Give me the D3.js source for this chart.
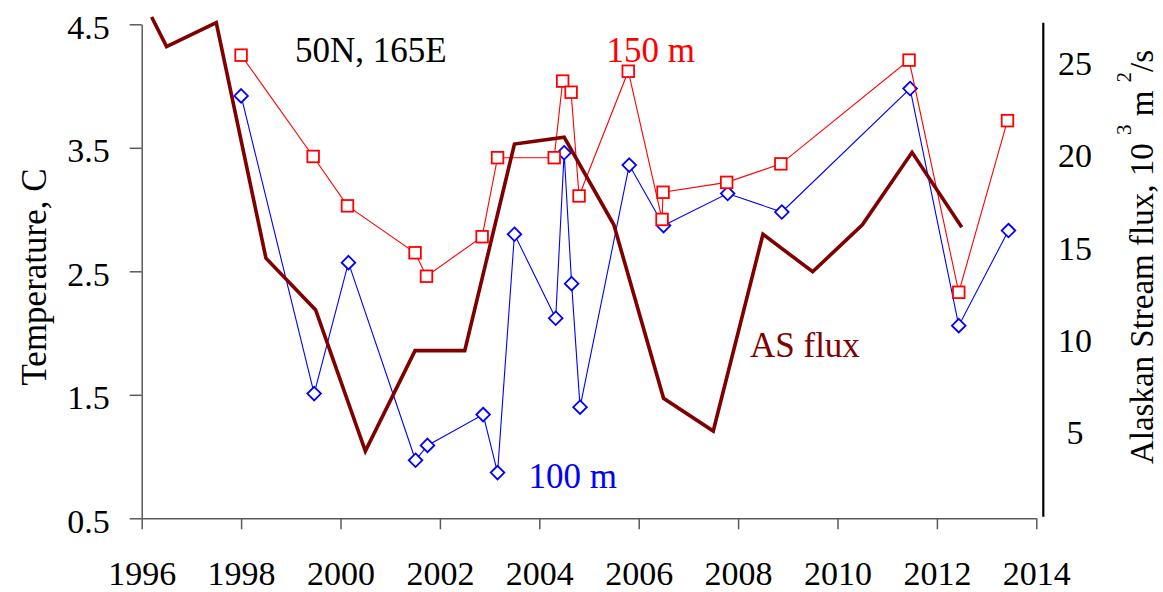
<!DOCTYPE html>
<html>
<head>
<meta charset="utf-8">
<script src="https://cdn.jsdelivr.net/npm/d3@7"></script>
<style>
  body { margin: 0; background: #fff; }
</style>
</head>
<body>
<svg id="chart" width="1163" height="592" font-family="'Liberation Serif', 'Times New Roman', 'DejaVu Serif', serif"></svg>
<script>
// Axis ticks
const yearTicks = [1996, 1998, 2000, 2002, 2004, 2006, 2008, 2010, 2012, 2014];
const tempTicks = [0.5, 1.5, 2.5, 3.5, 4.5];
const fluxTicks = [5, 10, 15, 20, 25];

// Temperature at 150 m (survey dates, decimal years)
const t150Years  = [1998.00, 1999.45, 2000.14, 2001.50, 2001.73, 2002.85, 2003.16, 2004.30, 2004.47, 2004.64,
                    2004.80, 2005.79, 2006.47, 2006.49, 2007.77, 2008.86, 2011.44, 2012.44, 2013.42];
const t150Values = [4.25, 3.43, 3.03, 2.65, 2.46, 2.78, 3.42, 3.42, 4.04, 3.95,
                    3.11, 4.12, 2.92, 3.14, 3.22, 3.37, 4.21, 2.33, 3.72];

// Temperature at 100 m
const t100Years  = [1998.00, 1999.47, 2000.16, 2001.51, 2001.75, 2002.87, 2003.16, 2003.50, 2004.33, 2004.50,
                    2004.65, 2004.82, 2005.81, 2006.50, 2007.79, 2008.88, 2011.46, 2012.44, 2013.44];
const t100Values = [3.92, 1.51, 2.57, 0.97, 1.09, 1.34, 0.87, 2.80, 2.12, 3.46,
                    2.40, 1.40, 3.36, 2.87, 3.13, 2.98, 3.98, 2.06, 2.83];

// Alaskan Stream flux, 10^3 m^2/s
const fluxYears  = [1996.2, 1996.5, 1997.5, 1998.5, 1999.5, 2000.5, 2001.5, 2002.5, 2003.5,
                    2004.5, 2005.5, 2006.5, 2007.5, 2008.5, 2009.5, 2010.5, 2011.5, 2012.5];
const fluxValues = [27.37, 25.77, 27.07, 14.32, 11.52, 3.89, 9.32, 9.32, 20.50,
                    20.87, 16.13, 6.74, 4.97, 15.62, 13.59, 16.13, 20.05, 16.00];

const FONT = "'Liberation Serif', 'Times New Roman', 'DejaVu Serif', serif";
const svg = d3.select("#chart");

const x  = d3.scaleLinear().domain([1996, 2014]).range([141.7, 1036.3]);
const yT = d3.scaleLinear().domain([0.5, 4.5]).range([518.3, 24.3]);
const yF = d3.scaleLinear().domain([0, 27]).range([522.9, 23.9]);

const axisGrey = "#5a5a5a";

// Bottom axis
const gx = svg.append("g")
  .attr("transform", `translate(0,${yT(0.5)})`)
  .call(d3.axisBottom(x).tickValues(yearTicks).tickSize(11).tickSizeOuter(0).tickFormat(d3.format("d")))
  .attr("font-family", FONT).attr("font-size", 34);
gx.select(".domain").attr("stroke", axisGrey).attr("stroke-width", 1.5);
gx.selectAll(".tick line").attr("stroke", axisGrey).attr("stroke-width", 1.5);
gx.selectAll(".tick text")
  .attr("y", 66.7).attr("dy", 0).attr("fill", "#000");

// Left axis
const gy = svg.append("g")
  .attr("transform", `translate(${x(1996)},0)`)
  .call(d3.axisLeft(yT).tickValues(tempTicks).tickSize(12).tickSizeOuter(0).tickFormat(d3.format(".1f")))
  .attr("font-family", FONT).attr("font-size", 34);
gy.select(".domain").attr("stroke", axisGrey).attr("stroke-width", 1.5);
gy.selectAll(".tick line").attr("stroke", axisGrey).attr("stroke-width", 1.5);
gy.selectAll(".tick text")
  .attr("x", -32).attr("y", 3).attr("dy", "0.32em").attr("fill", "#000");

// Right axis: plain line with labels, no tick marks
const rightX = 1043.3;
svg.append("line")
  .attr("x1", rightX).attr("x2", rightX)
  .attr("y1", yT(4.5) - 1.6).attr("y2", yT(0.5) - 1.6)
  .attr("stroke", "#000").attr("stroke-width", 2.2);
svg.append("g").selectAll("text")
  .data(fluxTicks).join("text")
  .attr("x", 1075).attr("y", d => yF(d) + 3).attr("dy", "0.32em")
  .attr("text-anchor", "middle").attr("font-size", 34).attr("fill", "#000")
  .text(d => d);

// Axis titles
svg.append("text")
  .attr("transform", "translate(46,277) rotate(-90)")
  .attr("text-anchor", "middle").attr("font-size", 35).attr("fill", "#000")
  .text("Temperature, C");

const rt = svg.append("text")
  .attr("transform", "translate(1153,257) rotate(-90)")
  .attr("text-anchor", "middle").attr("font-size", 33).attr("fill", "#000");
rt.append("tspan").text("Alaskan Stream flux, 10 ");
rt.append("tspan").attr("font-size", 21).attr("dy", -22).text("3");
rt.append("tspan").attr("dy", 22).text(" m ");
rt.append("tspan").attr("font-size", 21).attr("dy", -22).text("2");
rt.append("tspan").attr("dy", 22).text("/s");

// Series lines
const t150 = t150Years.map((yr, i) => [yr, t150Values[i]]);
const t100 = t100Years.map((yr, i) => [yr, t100Values[i]]);
const flux = fluxYears.map((yr, i) => [yr, fluxValues[i]]);

const lineT = d3.line().x(d => x(d[0])).y(d => yT(d[1]));
const lineF = d3.line().x(d => x(d[0])).y(d => yF(d[1]));

svg.append("path").datum(t100).attr("d", lineT)
  .attr("fill", "none").attr("stroke", "#0000ff").attr("stroke-width", 1.1);
svg.append("g").selectAll("path")
  .data(t100).join("path")
  .attr("transform", d => `translate(${x(d[0])},${yT(d[1])})`)
  .attr("d", "M0,-6.8L6.8,0L0,6.8L-6.8,0Z")
  .attr("fill", "#fff").attr("stroke", "#0000ff").attr("stroke-width", 1.8);

svg.append("path").datum(t150).attr("d", lineT)
  .attr("fill", "none").attr("stroke", "#ff0000").attr("stroke-width", 1.1);
svg.append("g").selectAll("rect")
  .data(t150).join("rect")
  .attr("x", d => x(d[0]) - 5.8).attr("y", d => yT(d[1]) - 5.8)
  .attr("width", 11.6).attr("height", 11.6)
  .attr("fill", "#fff").attr("stroke", "#ff0000").attr("stroke-width", 1.8);

svg.append("path").datum(flux).attr("d", lineF)
  .attr("fill", "none").attr("stroke", "#800000").attr("stroke-width", 3.6)
  .attr("stroke-linejoin", "miter");

// Labels
svg.append("text").attr("x", 295).attr("y", 62).attr("font-size", 35).attr("fill", "#000").text("50N, 165E");
svg.append("text").attr("x", 606.5).attr("y", 62).attr("font-size", 35).attr("fill", "#ff0000").text("150 m");
svg.append("text").attr("x", 528.5).attr("y", 488).attr("font-size", 35).attr("fill", "#0000ff").text("100 m");
svg.append("text").attr("x", 750).attr("y", 357).attr("font-size", 35).attr("fill", "#800000").text("AS flux");
</script>
</body>
</html>
